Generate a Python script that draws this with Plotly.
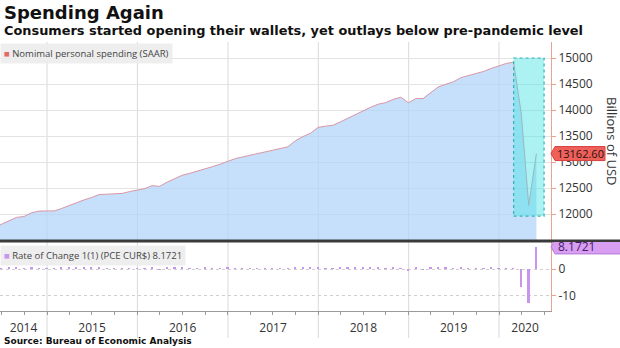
import pandas as pd
import plotly.graph_objects as go

# Nominal personal consumption expenditures, billions of USD, SAAR (monthly, May 2014 - May 2020)
spending = [
    11760, 11800, 11868, 11935, 11952, 12025, 12056, 12058,
    12060, 12105, 12165, 12225, 12272, 12318, 12375, 12381, 12386, 12396, 12430, 12461,
    12488, 12545, 12532, 12612, 12680, 12745, 12782, 12822, 12872, 12912, 12957, 13019,
    13066, 13096, 13128, 13166, 13196, 13228, 13256, 13292, 13408, 13490, 13552, 13665,
    13690, 13706, 13772, 13842, 13906, 13984, 14052, 14112, 14142, 14205, 14246, 14140,
    14222, 14220, 14338, 14442, 14496, 14540, 14622, 14665, 14705, 14742, 14800, 14852,
    14896, 14920, 13925, 12168.2, 13162.6,
]
months = pd.date_range("2014-05-31", periods=len(spending), freq="ME")

# one-month rate of change, percent
roc = [None] + [(spending[i] / spending[i - 1] - 1) * 100 for i in range(1, len(spending))]
last_level = spending[-1]
last_roc = roc[-1]

level_ticks = [12000, 12500, 13000, 13500, 14000, 14500, 15000]
roc_ticks = [0, -10]
roc_tick_text = ["0", "-10"]

year_labels = ["2014", "2015", "2016", "2017", "2018", "2019", "2020"]
year_label_pos = ["2014-09-28", "2015-07-02", "2016-07-02", "2017-07-02",
                  "2018-07-02", "2019-07-02", "2020-04-15"]
year_bounds = ["2015-01-01", "2016-01-01", "2017-01-01", "2018-01-01",
               "2019-01-01", "2020-01-01"]

W, H = 620, 348
X_RANGE = ["2014-06-25", "2020-07-29"]
X_RIGHT = 551 / W
MAIN_RANGE = [11500, 15308]
LOW_RANGE = [-15.56, 10]
main_dom = [1 - 240 / H, 1 - 42 / H]
low_dom = [1 - 311 / H, 1 - 242 / H]

AXIS_COLOR = "#e6a58c"
TXT = "#333333"
SANS = "Open Sans, Noto Sans, sans-serif"

fig = go.Figure()

fig.add_trace(go.Scatter(
    x=months, y=spending, mode="lines",
    line=dict(color="rgb(218,150,165)", width=1),
    fill="tozeroy", fillcolor="rgba(176,212,249,0.72)",
    xaxis="x", yaxis="y", hoverinfo="skip",
))

fig.add_trace(go.Bar(
    x=months, y=roc, marker=dict(color="#c795ec", line=dict(width=0)),
    width=7 * 86400000, xaxis="x2", yaxis="y2", hoverinfo="skip",
))

shapes = []
# year separators across both panels and the date strip
for d in year_bounds:
    shapes.append(dict(type="line", xref="x", yref="paper", x0=d, x1=d,
                       y0=1 - 338 / H, y1=main_dom[1],
                       line=dict(color="#d9d9d9", width=1), layer="below"))

# highlighted pandemic window
shapes.append(dict(type="rect", xref="x", yref="y", x0="2020-02-29", x1="2020-07-01",
                   y0=11960, y1=15000, fillcolor="rgba(70,226,226,0.45)",
                   line=dict(color="#2fb5b5", width=1.2, dash="dot"), layer="above"))

# dark divider between the panels
shapes.append(dict(type="line", xref="paper", yref="paper", x0=0, x1=1,
                   y0=1 - 241 / H, y1=1 - 241 / H,
                   line=dict(color="#3a3a3a", width=3)))

# value tags on the right axes
shapes.append(dict(type="path", xref="paper", yref="y", xsizemode="pixel", ysizemode="pixel",
                   xanchor=X_RIGHT, yanchor=last_level,
                   path="M 0,0 L 4,7 L 54,7 L 54,-7 L 4,-7 Z",
                   fillcolor="#f0605a", line=dict(color="#d84040", width=1)))
shapes.append(dict(type="path", xref="paper", yref="y2", xsizemode="pixel", ysizemode="pixel",
                   xanchor=X_RIGHT, yanchor=last_roc,
                   path="M 0,0 L 4,7 L 80,7 L 80,-7 L 4,-7 Z",
                   fillcolor="#d79ef2", line=dict(color="#b57ad6", width=1)))

annotations = [
    dict(text="<b>Spending Again</b>", xref="paper", yref="paper", x=0.004, y=1 - 13 / H,
         xanchor="left", yanchor="middle", showarrow=False,
         font=dict(family="DejaVu Sans", size=18, color="#111")),
    dict(text="<b>Consumers started opening their wallets, yet outlays below pre-pandemic level</b>",
         xref="paper", yref="paper", x=0.004, y=1 - 31 / H, xanchor="left", yanchor="middle",
         showarrow=False, font=dict(family="DejaVu Sans", size=12.9, color="#111")),
    dict(text="<span style='color:#e36b66'>■</span> Nomimal personal spending (SAAR)",
         xref="paper", yref="paper", x=0, y=main_dom[1] - 1 / H, xanchor="left", yanchor="top",
         showarrow=False, bgcolor="rgba(236,236,236,0.9)", borderpad=3,
         font=dict(family=SANS, size=9.5, color="#444")),
    dict(text=f"<span style='color:#c795ec'>■</span> Rate of Change 1(1) (PCE CUR$) {last_roc:.4f}",
         xref="paper", yref="paper", x=0, y=low_dom[1] - 3 / H, xanchor="left", yanchor="top",
         showarrow=False, bgcolor="rgba(236,236,236,0.9)", borderpad=3,
         font=dict(family=SANS, size=9.5, color="#444")),
    dict(text="Billions of USD", xref="paper", yref="paper", x=1 - 8 / W, y=1 - 141 / H,
         xanchor="center", yanchor="middle", textangle=90, showarrow=False,
         font=dict(family=SANS, size=13, color=TXT)),
    dict(text=f"{last_level:.2f}", xref="paper", yref="y", x=X_RIGHT, y=last_level,
         xshift=4, xanchor="left", yanchor="middle", showarrow=False,
         font=dict(family=SANS, size=11, color="#2a1010")),
    dict(text=f"{last_roc:.4f}", xref="paper", yref="y2", x=X_RIGHT, y=last_roc,
         xshift=5, xanchor="left", yanchor="middle", showarrow=False,
         font=dict(family=SANS, size=12, color="#4a1a6a")),
    dict(text="<b>Source: Bureau of Economic Analysis</b>", xref="paper", yref="paper",
         x=0.004, y=1 - 341 / H, xanchor="left", yanchor="middle", showarrow=False,
         font=dict(family="DejaVu Sans", size=9, color="#111")),
]

fig.update_layout(
    width=W, height=H, margin=dict(l=0, r=0, t=0, b=0),
    paper_bgcolor="white", plot_bgcolor="rgba(0,0,0,0)",
    showlegend=False, bargap=0,
    shapes=shapes, annotations=annotations,
    xaxis=dict(domain=[0, X_RIGHT], range=X_RANGE, type="date", anchor="y",
               showticklabels=False, showgrid=False, zeroline=False, ticks=""),
    yaxis=dict(domain=main_dom, range=MAIN_RANGE, side="right", anchor="x",
               tickmode="array", tickvals=level_ticks, tickformat="d",
               showline=True, linecolor=AXIS_COLOR,
               ticks="outside", ticklen=4, tickcolor=AXIS_COLOR,
               tickfont=dict(family=SANS, size=12, color=TXT),
               showgrid=True, gridcolor="#e3e3e3", zeroline=False),
    xaxis2=dict(domain=[0, X_RIGHT], range=X_RANGE, type="date", anchor="y2", matches="x",
                tickmode="array", tickvals=year_label_pos, ticktext=year_labels,
                ticks="outside", ticklen=6, tickcolor="rgba(0,0,0,0)",
                tickfont=dict(family=SANS, size=12, color=TXT),
                showline=True, linecolor="#9a9a9a", showgrid=False, zeroline=False,
                minor=dict(ticks="outside", ticklen=3, tickcolor="#9a9a9a",
                           tickmode="linear", tick0="2014-01-01", dtick="M3", showgrid=False)),
    yaxis2=dict(domain=low_dom, range=LOW_RANGE, side="right", anchor="x2",
                tickmode="array", tickvals=roc_ticks, ticktext=roc_tick_text,
                showline=True, linecolor=AXIS_COLOR, ticks="outside", ticklen=4,
                tickcolor=AXIS_COLOR, tickfont=dict(family=SANS, size=12, color=TXT),
                showgrid=True, gridcolor="#cfcfcf", griddash="dot", zeroline=False),
)

fig.write_html("out.html")
